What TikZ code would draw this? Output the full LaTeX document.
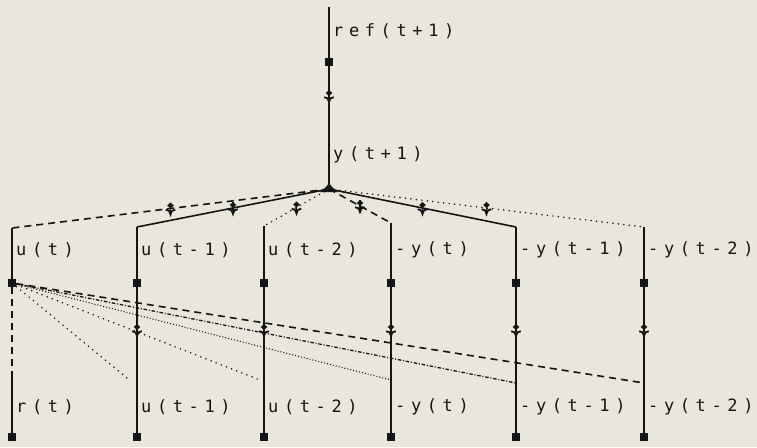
\documentclass[tikz,border=0pt]{standalone}
\usepackage{fontspec}
\newfontfamily\plotfont[LetterSpace=33]{DejaVu Sans Mono}
\usetikzlibrary{calc}
\definecolor{paper}{RGB}{233,231,220}
\definecolor{ink}{RGB}{20,20,20}
\tikzset{
  lab/.style={anchor=west,inner sep=0pt,font=\plotfont\fontsize{17}{17}\selectfont,text=ink},
  sq/.style={rectangle,fill=ink,minimum size=8.5pt,inner sep=0pt},
  wire/.style={draw=ink,line width=1.6pt},
  dashwire/.style={wire,dash pattern=on 7pt off 5pt},
  dotwire/.style={draw=ink,line width=1.7pt,line cap=round,dash pattern=on 0pt off 5.5pt},
  densedot/.style={draw=ink,line width=1.4pt,line cap=round,dash pattern=on 0pt off 3pt},
  dashdotwire/.style={draw=ink,line width=1.3pt,dash pattern=on 3.5pt off 1.8pt on 1pt off 1.8pt},
  mk/.pic={
    \fill[ink,solid] (0,-6) -- (3.3,-3) -- (0,0) -- (-3.3,-3) -- cycle;
    \draw[ink,solid,line width=1.8pt] (-4.8,1.2) .. controls (-1.5,1.8) .. (0,6) .. controls (1.5,1.8) .. (4.8,1.2);
    \draw[ink,solid,line width=1.6pt] (0,-6) -- (0,6);
  }
}
\begin{document}
\begin{tikzpicture}[x=1pt,y=-1pt]
\fill[paper] (0,0) rectangle (757,447);
\useasboundingbox (0,0) rectangle (757,447);

% top branch
\coordinate (top) at (329,7);
\coordinate (hub) at (329,189);
\node[sq] (refsq) at (329,62) {};
\node[lab] (ref) at (333,31) {ref(t+1)};
\node[lab] (ynext) at (333,155) {y(t+1)};
\draw[wire] (top) -- (hub);
\pic at (329,96) {mk};
\fill[ink] (320,192) -- (326,187) -- (329,183) -- (332,187) -- (338,192) -- cycle;

% column tops
\coordinate (c1) at (12,228);
\coordinate (c2) at (137,227);
\coordinate (c3) at (264,226);
\coordinate (c4) at (391,223);
\coordinate (c5) at (516,227);
\coordinate (c6) at (644,227);

% fan from hub
\draw[dashwire] (hub) -- (c1);
\draw[wire] (hub) -- (c2);
\draw[dotwire] (hub) -- (c3);
\draw[dashwire] (hub) -- (c4);
\draw[wire] (hub) -- (c5);
\draw[dotwire] (hub) -- (c6);
\foreach \c in {c1,c2,c3,c4,c5,c6}{
  \pic at ($(hub)!0.5!(\c)$) {mk};
}

% middle squares
\node[sq] (s1) at (12,283) {};
\node[sq] (s2) at (137,283) {};
\node[sq] (s3) at (264,283) {};
\node[sq] (s4) at (391,283) {};
\node[sq] (s5) at (516,283) {};
\node[sq] (s6) at (644,283) {};

% bottom squares
\node[sq] (b1) at (12,437) {};
\node[sq] (b2) at (137,437) {};
\node[sq] (b3) at (264,437) {};
\node[sq] (b4) at (391,437) {};
\node[sq] (b5) at (516,437) {};
\node[sq] (b6) at (644,437) {};

% column 1
\coordinate (c1m) at (12,374);
\draw[wire] (c1) -- (s1);
\draw[dashwire] (s1) -- (c1m);
\draw[wire] (c1m) -- (b1);

% columns 2-6
\foreach \i in {2,...,6}{
  \draw[wire] (c\i) -- (b\i);
}
\foreach \x in {137,264,391,516,644}{
  \pic at (\x,330) {mk};
}

% fan from u(t) square
\coordinate (e2) at (127,378);
\coordinate (e3) at (260,380);
\coordinate (e4) at (391,380);
\coordinate (e5) at (516,383);
\coordinate (e6) at (644,383);
\draw[dotwire] (s1) -- (e2);
\draw[dotwire] (s1) -- (e3);
\draw[densedot] (s1) -- (e4);
\draw[dashdotwire] (s1) -- (e5);
\draw[dashwire] (s1) -- (e6);

% top labels
\node[lab] (lu0) at (16,250) {u(t)};
\node[lab] (lu1) at (141,250) {u(t-1)};
\node[lab] (lu2) at (268,250) {u(t-2)};
\node[lab] (ly0) at (395,250) {-y(t)};
\node[lab] (ly1) at (520,250) {-y(t-1)};
\node[lab] (ly2) at (648,250) {-y(t-2)};

% bottom labels
\node[lab] (br) at (16,407) {r(t)};
\node[lab] (bu1) at (141,407) {u(t-1)};
\node[lab] (bu2) at (268,407) {u(t-2)};
\node[lab] (by0) at (395,407) {-y(t)};
\node[lab] (by1) at (520,407) {-y(t-1)};
\node[lab] (by2) at (648,407) {-y(t-2)};
\end{tikzpicture}
\end{document}
